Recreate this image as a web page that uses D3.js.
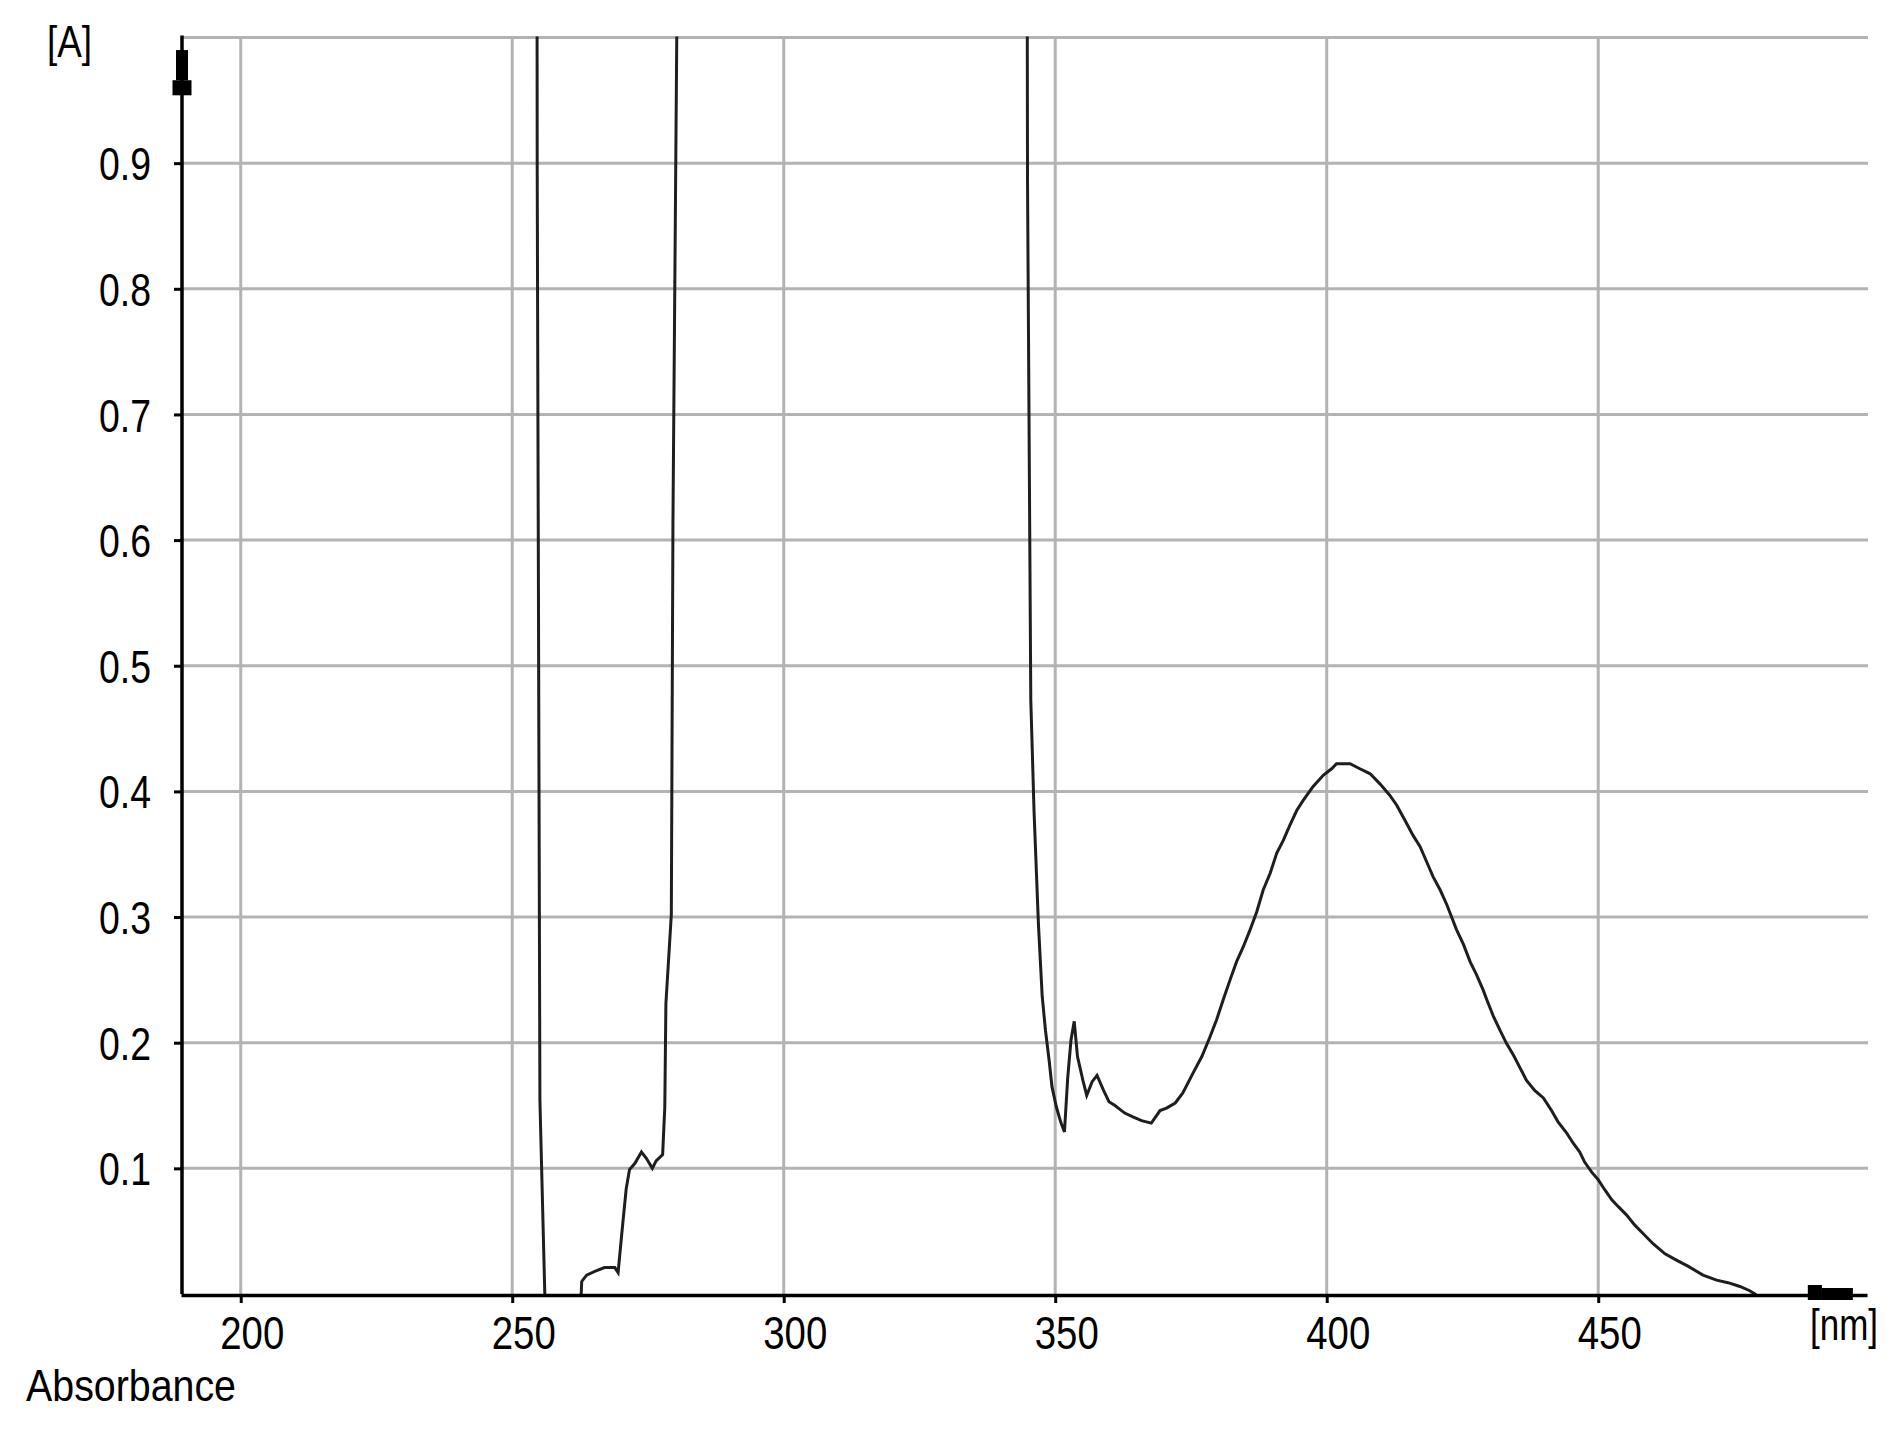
<!DOCTYPE html>
<html><head><meta charset="utf-8">
<script src="https://cdn.jsdelivr.net/npm/d3@7"></script>
<style>html,body{margin:0;padding:0;background:#fff;} svg{display:block;}</style>
</head><body>
<svg id="chart" width="1896" height="1439"></svg>
<script>
// ---- data (values above 1.0 are off-scale) ----
const wavelength_nm = [190, 254.5, 254.6, 255.1, 256.0, 256.5, 262.3, 262.7, 262.8, 263.7, 265.2, 267.0, 268.9, 269.5, 269.8, 270.4, 271.0, 271.6, 272.6, 273.8, 274.7, 275.8, 276.5, 277.7, 278.1, 278.3, 279.3, 279.6, 280.3, 280.5,
  344.7, 344.9, 345.5, 346.1, 346.9, 347.6, 348.2, 348.9, 349.4, 350.2, 351.0, 351.7, 352.3, 352.9, 353.5, 354.1, 355.1, 355.8, 356.8, 357.7, 358.9, 359.9, 361.0, 362.8, 364.3, 365.9, 367.7, 369.3, 370.5, 372.1, 373.5, 375.4, 377.0, 378.4, 379.7,
  381.0, 382.2, 383.4, 384.6, 385.9, 387.1, 388.3, 389.6, 390.8, 392.0, 393.2, 394.5, 395.7, 397.5, 399.4, 400.9, 401.8, 404.3, 406.1, 408.0, 409.8, 411.6, 412.9, 414.4, 415.9, 417.2, 418.4, 419.6, 420.9, 422.1, 423.0, 423.9, 425.2, 426.4, 427.6,
  428.8, 429.5, 430.7, 431.9, 433.1, 434.4, 435.6, 436.8, 438.3, 439.9, 441.4, 442.6, 444.2, 445.4, 446.6, 447.5, 448.8, 450.0, 451.2, 452.5, 453.7, 455.2, 456.7, 458.3, 460.1, 462.3, 464.4, 466.6, 469.3, 471.8, 473.9, 476.1, 477.9, 478.9, 480.0, 499.0];
const absorbance = [1.4, 1.4, 0.895, 0.154, 0.0, -0.04, -0.04, 0.0, 0.010, 0.015, 0.018, 0.021, 0.021, 0.017, 0.031, 0.058, 0.084, 0.099, 0.104, 0.113, 0.108, 0.100, 0.106, 0.111, 0.149, 0.231, 0.302, 0.614, 1.0, 1.4,
  1.4, 0.885, 0.473, 0.384, 0.295, 0.237, 0.210, 0.185, 0.165, 0.149, 0.137, 0.129, 0.172, 0.202, 0.217, 0.189, 0.170, 0.158, 0.169, 0.174, 0.162, 0.153, 0.150, 0.144, 0.141, 0.138, 0.136, 0.146, 0.148, 0.152, 0.160, 0.176, 0.189, 0.2035, 0.218,
  0.235, 0.250, 0.2645, 0.276, 0.290, 0.304, 0.3215, 0.335, 0.351, 0.361, 0.373, 0.385, 0.393, 0.404, 0.413, 0.418, 0.422, 0.422, 0.418, 0.414, 0.406, 0.397, 0.389, 0.377, 0.365, 0.356, 0.344, 0.332, 0.3215, 0.310, 0.300, 0.290, 0.278, 0.2645, 0.254,
  0.242, 0.234, 0.221, 0.210, 0.1995, 0.190, 0.180, 0.170, 0.162, 0.156, 0.146, 0.137, 0.128, 0.120, 0.113, 0.105, 0.097, 0.091, 0.083, 0.075, 0.0695, 0.063, 0.055, 0.048, 0.040, 0.032, 0.027, 0.022, 0.015, 0.011, 0.009, 0.006, 0.0026, 0.0, -0.01, -0.01];

const xTickValues = [200, 250, 300, 350, 400, 450];
const xTickLabels = ["200", "250", "300", "350", "400", "450"];
const yTickValues = [0.1, 0.2, 0.3, 0.4, 0.5, 0.6, 0.7, 0.8, 0.9];
const yTickLabels = ["0.1", "0.2", "0.3", "0.4", "0.5", "0.6", "0.7", "0.8", "0.9"];
const yGridValues = [0.1, 0.2, 0.3, 0.4, 0.5, 0.6, 0.7, 0.8, 0.9, 1.0];
const xDomain = [189, 499.5];
const yDomain = [0, 1];
const xUnitLabel = "[nm]";
const yUnitLabel = "[A]";
const quantityLabel = "Absorbance";
// cursor markers on the axes (nm / A positions)
const xCursor = [488.6, 491.2, 496.9];
const yCursor = [0.99, 0.966, 0.954];

// ---- layout ----
const FONT = "'Liberation Sans', Arial, sans-serif";
const svg = d3.select("#chart");
const x = d3.scaleLinear().domain(xDomain).range([181, 1867]);
const y = d3.scaleLinear().domain(yDomain).range([1294, 37.5]);
const GRID = "#b3b3b3";

// grid
const grid = svg.append("g");
grid.selectAll("line.v").data(xTickValues).join("line")
  .attr("x1", d => x(d)).attr("x2", d => x(d))
  .attr("y1", y(0)).attr("y2", y(1))
  .attr("stroke", GRID).attr("stroke-width", 3);
grid.selectAll("line.h").data(yGridValues).join("line")
  .attr("x1", x(xDomain[0])).attr("x2", x(xDomain[1]) + 1)
  .attr("y1", d => y(d)).attr("y2", d => y(d))
  .attr("stroke", GRID).attr("stroke-width", 3);

// clip
svg.append("clipPath").attr("id", "plotclip").append("rect")
  .attr("x", x(xDomain[0])).attr("y", y(1) - 1)
  .attr("width", x(xDomain[1]) - x(xDomain[0])).attr("height", y(0) - y(1) + 1);

const pts = wavelength_nm.map((w, i) => [w, absorbance[i]]);
const line = d3.line().x(d => x(d[0])).y(d => y(d[1]));
svg.append("path").datum(pts)
  .attr("clip-path", "url(#plotclip)")
  .attr("d", line)
  .attr("fill", "none").attr("stroke", "#1e1e1e").attr("stroke-width", 3)
  .attr("stroke-linejoin", "miter");

// axes
const xAxis = svg.append("g").attr("transform", `translate(0,${y(0) + 1})`)
  .call(d3.axisBottom(x).tickValues(xTickValues).tickFormat((d, i) => xTickLabels[i]).tickSize(8).tickSizeOuter(0));
const yAxis = svg.append("g").attr("transform", `translate(${x(xDomain[0]) + 1},0)`)
  .call(d3.axisLeft(y).tickValues(yTickValues).tickFormat((d, i) => yTickLabels[i]).tickSize(8).tickSizeOuter(0));
[xAxis, yAxis].forEach(a => {
  a.select(".domain").attr("stroke", "#000").attr("stroke-width", 3.5);
  a.selectAll(".tick line").attr("stroke", "#000").attr("stroke-width", 3);
  a.selectAll(".tick text").attr("fill", "#000").attr("font-family", FONT).attr("font-size", 46);
});
yAxis.select(".domain").attr("d", `M0,${y(0)}V${y(1) - 2}`);
xAxis.selectAll(".tick text").attr("y", 54).attr("dy", 0).attr("x", 11)
  .attr("textLength", 64).attr("lengthAdjust", "spacingAndGlyphs");
yAxis.selectAll(".tick text").attr("x", -31).attr("dy", "0.36em")
  .attr("textLength", 52).attr("lengthAdjust", "spacingAndGlyphs");

// cursor markers
const ax = x(xDomain[0]) + 1;
svg.append("rect").attr("x", ax - 6).attr("width", 12)
  .attr("y", y(yCursor[0])).attr("height", y(yCursor[1]) - y(yCursor[0])).attr("fill", "#000");
svg.append("rect").attr("x", ax - 9.5).attr("width", 19)
  .attr("y", y(yCursor[1])).attr("height", y(yCursor[2]) - y(yCursor[1])).attr("fill", "#000");
svg.append("rect").attr("x", x(xCursor[0])).attr("width", x(xCursor[1]) - x(xCursor[0]))
  .attr("y", y(0) - 9).attr("height", 15).attr("fill", "#000");
svg.append("rect").attr("x", x(xCursor[1])).attr("width", x(xCursor[2]) - x(xCursor[1]))
  .attr("y", y(0) - 6).attr("height", 12).attr("fill", "#000");

// labels
svg.append("text").text(yUnitLabel).attr("x", 47).attr("y", 57)
  .attr("font-family", FONT).attr("font-size", 44).attr("fill", "#000")
  .attr("textLength", 45).attr("lengthAdjust", "spacingAndGlyphs");
svg.append("text").text(xUnitLabel).attr("x", 1810).attr("y", 1340)
  .attr("font-family", FONT).attr("font-size", 44).attr("fill", "#000")
  .attr("textLength", 68).attr("lengthAdjust", "spacingAndGlyphs");
svg.append("text").text(quantityLabel).attr("x", 26).attr("y", 1401)
  .attr("font-family", FONT).attr("font-size", 44).attr("fill", "#000")
  .attr("textLength", 210).attr("lengthAdjust", "spacingAndGlyphs");
</script>
</body></html>
